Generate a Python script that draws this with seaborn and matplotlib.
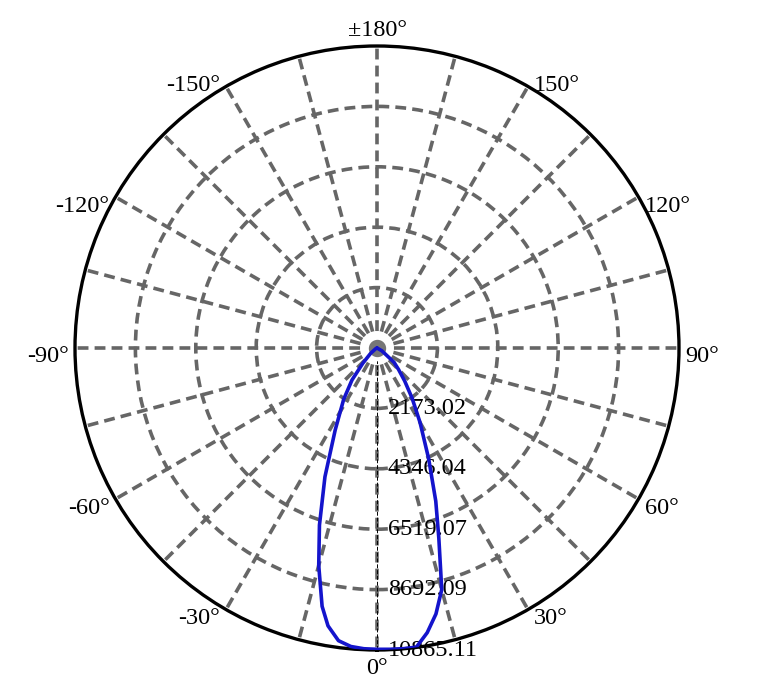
import numpy as np
import pandas as pd
import seaborn as sns
import matplotlib
matplotlib.use("Agg")
import matplotlib.pyplot as plt

# luminous intensity distribution (cd), angle in degrees, 0 = downward
angles = [-180, -90, -70, -60, -50, -43, -38, -33, -27, -22, -18, -15, -12, -10, -7.5, -5,
          -2.5, 0, 2.5, 5, 7.5, 10, 12.5, 15, 18, 21, 25, 30, 35, 40, 45, 50, 60, 70, 90, 180]
intensity = [0, 0, 0, 60, 300, 740, 1461, 2200, 3314, 5000, 6700, 8100, 9500, 10150, 10620,
             10780, 10830, 10840, 10850, 10860, 10855, 10400, 9800, 9000, 7200, 5900, 4400,
             3100, 2200, 1550, 1100, 800, 200, 0, 0, 0]

ring_values = [2173.02, 4346.04, 6519.07, 8692.09, 10865.11]
ring_labels = ["2173.02", "4346.04", "6519.07", "8692.09", "10865.11"]

label_angles = [0, 30, 60, 90, 120, 150, 180, -150, -120, -90, -60, -30]
label_texts = ["0°", "30°", "60°", "90°", "120°", "150°", "±180°",
               "-150°", "-120°", "-90°", "-60°", "-30°"]

sns.set_style("white")
plt.rcParams['font.family'] = ['Liberation Serif', 'DejaVu Serif']
plt.rcParams['text.color'] = 'black'

rmax = ring_values[-1]
grid_col = '#666666'
fs = 17.5

df = pd.DataFrame({'theta': np.radians(angles), 'r': intensity})

fig = plt.figure(figsize=(7.62, 6.96), dpi=100)
ax = fig.add_axes([75 / 762, 46 / 696, 604 / 762, 604 / 696], projection='polar')
ax.set_theta_zero_location('S')
ax.set_theta_direction(1)
ax.set_ylim(0, rmax)

ax.set_xticks(np.radians(np.arange(0, 360, 15)))
ax.set_xticklabels([])
ax.set_yticks(ring_values[:-1])
ax.set_yticklabels([])
ax.grid(True, color=grid_col, linestyle=(0, (3.0, 1.7)), linewidth=2.6)
ax.spines['polar'].set_linewidth(2.4)
ax.spines['polar'].set_color('black')
ax.tick_params(length=0)

# thin black dashed line along the 0° axis
ax.plot([0, 0], [0, rmax], color='black', lw=0.7, ls=(0, (4, 2)), zorder=3)

ax.scatter([0], [0], s=240, color='#777777', edgecolors='white', linewidths=3, zorder=4)

sns.lineplot(data=df, x='theta', y='r', sort=False, ax=ax, color='#1414cc', lw=2.6,
             zorder=5, legend=False)
ax.set_xlabel('')
ax.set_ylabel('')

for v, t in zip(ring_values, ring_labels):
    ax.annotate(t, xy=(0, v), xytext=(11, 0), textcoords='offset pixels',
                ha='left', va='center', fontsize=fs, zorder=3, annotation_clip=False)

for a, t in zip(label_angles, label_texts):
    rad = np.radians(a)
    dx = np.sin(rad)
    dy = -np.cos(rad)
    if abs(dx) < 0.1:
        ha, off = 'center', (0, 16 if dy > 0 else -19)
    else:
        down = 9 - 14 * max(0.0, dy - 0.5) / 0.5
        ha, off = ('left' if dx > 0 else 'right'), (6 * np.sign(dx), -down)
    ax.annotate(t, xy=(rad, rmax), xytext=off, textcoords='offset pixels',
                ha=ha, va='center', fontsize=fs, annotation_clip=False)

fig.savefig('out.png', dpi=100)
